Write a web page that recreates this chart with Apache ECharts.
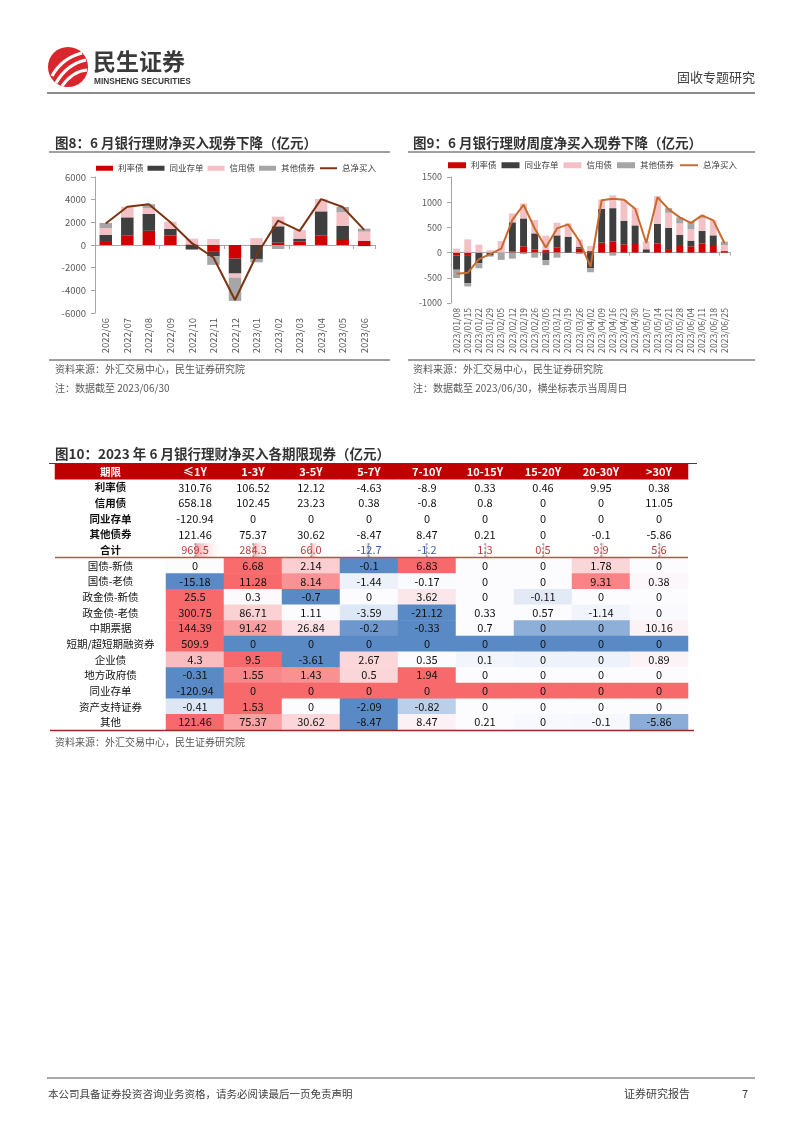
<!DOCTYPE html>
<html><head><meta charset="utf-8">
<script src="https://cdn.jsdelivr.net/npm/echarts@6/dist/echarts.min.js"></script>
<style>html,body{margin:0;padding:0;background:#fff;}#c{width:802px;height:1133px;}</style>
</head><body><div id="c"></div>
<script>
// ---------- Figure 8 (monthly) ----------
const months = ['2022/06','2022/07','2022/08','2022/09','2022/10','2022/11','2022/12','2023/01','2023/02','2023/03','2023/04','2023/05','2023/06'];
const rate8   = [350, 820, 1250, 850, 50, -600, -1200, 0, 200, 300, 820, 530, 380];
const ncd8    = [530, 1620, 1500, 560, -400, -400, -1320, -1230, 1450, 260, 2150, 1175, -100];
const credit8 = [620, 880, 500, 650, 510, 530, -350, 600, 850, 750, 1050, 1180, 800];
const other8  = [450, 50, 350, 0, 0, -750, -2060, -300, -350, -100, 30, 470, 260];
const total8  = [1900, 3380, 3600, 2000, 160, -1100, -4850, -900, 2150, 1250, 4050, 3350, 1330];

// ---------- Figure 9 (weekly) ----------
const weeks = ['2023/01/08','2023/01/15','2023/01/22','2023/01/29','2023/02/05','2023/02/12','2023/02/19','2023/02/26','2023/03/05','2023/03/12','2023/03/19','2023/03/26','2023/04/02','2023/04/09','2023/04/16','2023/04/23','2023/04/30','2023/05/07','2023/05/14','2023/05/21','2023/05/28','2023/06/04','2023/06/11','2023/06/18','2023/06/25'];
const rate9   = [-60, -50, 0, 0, 0, 20, 125, 66, 50, 105, 0, 80, 30, 197, 217, 164, 170, 0, 178, 70, 151, 125, 184, 151, 30];
const ncd9    = [-280, -555, -210, -60, 0, 580, 553, 316, -150, 237, 316, 30, -310, 672, 665, 468, 370, 66, 394, 423, 198, 112, 244, 191, 0];
const credit9 = [80, 263, 158, 50, 230, 177, 296, 263, 286, 250, 263, 150, 100, 184, 256, 408, 348, 158, 547, 297, 230, 224, 263, 303, 121];
const other9  = [-165, -66, -100, -20, -145, -120, -30, -100, -100, -100, 0, -30, -80, 0, -60, 0, 0, 0, 0, 92, 118, 151, 40, 0, 66];
const total9  = [-420, -400, -130, -30, 80, 650, 950, 480, 100, 480, 560, 230, -280, 1040, 1070, 1050, 870, 190, 1100, 860, 700, 590, 740, 640, 190];

const legendNames = ['利率债','同业存单','信用债','其他债券','总净买入'];

// ---------- Figure 10 (table) ----------
const tenors = ['≤1Y','1-3Y','3-5Y','5-7Y','7-10Y','10-15Y','15-20Y','20-30Y','>30Y'];
const topRowNames = ['利率债','信用债','同业存单','其他债券','合计'];
const rateBondRow  = [310.76, 106.52, 12.12, -4.63, -8.9, 0.33, 0.46, 9.95, 0.38];
const creditBondRow= [658.18, 102.45, 23.23, 0.38, -0.8, 0.8, 0, 0, 11.05];
const ncdRow       = [-120.94, 0, 0, 0, 0, 0, 0, 0, 0];
const otherBondRow = [121.46, 75.37, 30.62, -8.47, 8.47, 0.21, 0, -0.1, -5.86];
const totalRow     = [969.5, 284.3, 66.0, -12.7, -1.2, 1.3, 0.5, 9.9, 5.6];

const heatRowNames = ['国债-新债','国债-老债','政金债-新债','政金债-老债','中期票据','短期/超短期融资券','企业债','地方政府债','同业存单','资产支持证券','其他'];
const govNew   = [0, 6.68, 2.14, -0.1, 6.83, 0, 0, 1.78, 0];
const govOld   = [-15.18, 11.28, 8.14, -1.44, -0.17, 0, 0, 9.31, 0.38];
const pfbNew   = [25.5, 0.3, -0.7, 0, 3.62, 0, -0.11, 0, 0];
const pfbOld   = [300.75, 86.71, 1.11, -3.59, -21.12, 0.33, 0.57, -1.14, 0];
const mtn      = [144.39, 91.42, 26.84, -0.2, -0.33, 0.7, 0, 0, 10.16];
const cp       = [509.9, 0, 0, 0, 0, 0, 0, 0, 0];
const corp     = [4.3, 9.5, -3.61, 2.67, 0.35, 0.1, 0, 0, 0.89];
const localGov = [-0.31, 1.55, 1.43, 0.5, 1.94, 0, 0, 0, 0];
const ncdHeat  = [-120.94, 0, 0, 0, 0, 0, 0, 0, 0];
const abs      = [-0.41, 1.53, 0, -2.09, -0.82, 0, 0, 0, 0];
const others   = [121.46, 75.37, 30.62, -8.47, 8.47, 0.21, 0, -0.1, -5.86];
const heatRows = [govNew, govOld, pfbNew, pfbOld, mtn, cp, corp, localGov, ncdHeat, abs, others];

// ---------- styling ----------
const FONT = '"Noto Sans CJK SC","Noto Sans",sans-serif';
const COL = {red:'#D00000', dark:'#3F3F3F', pink:'#F3C1C5', gray:'#A6A6A6', line8:'#7B3413', line9:'#C9692E'};
const HIGH='#F8696B', MID='#FCFCFF', LOW='#5A8AC6';
function rgb(h){return [parseInt(h.slice(1,3),16),parseInt(h.slice(3,5),16),parseInt(h.slice(5,7),16)];}
function mix(a,b,t){const A=rgb(a),B=rgb(b);return 'rgb('+A.map((x,i)=>Math.round(x+(B[i]-x)*t)).join(',')+')';}
function scaleColor(v,row){
  const s=row.slice().sort((a,b)=>a-b), n=s.length, mn=s[0], mx=s[n-1];
  const med = n%2 ? s[(n-1)/2] : (s[n/2-1]+s[n/2])/2;
  if (v<=mn) return LOW;
  if (v>=mx) return HIGH;
  if (v<med) return mix(MID,LOW,(med-v)/(med-mn));
  if (v>med) return mix(MID,HIGH,(v-med)/(mx-med));
  return MID;
}

function bars(names, arrs, colors, xi, yi, stack, bw){
  return arrs.map((d,i)=>({name:names[i], type:'bar', stack:stack, xAxisIndex:xi, yAxisIndex:yi,
    data:d, barWidth:bw, itemStyle:{color:colors[i]}, emphasis:{disabled:true}}));
}
const barColors=[COL.red, COL.dark, COL.pink, COL.gray];

// table data
const labelData=[];
labelData.push({value:[0,0,0], txt:'期限', itemStyle:{color:'#C00000'}, label:{color:'#fff', fontWeight:'bold'}});
topRowNames.forEach((n,i)=>labelData.push({value:[0,i+1,0], txt:n, itemStyle:{color:'#fff'}, label:{fontWeight:'bold'}}));
heatRowNames.forEach((n,i)=>labelData.push({value:[0,i+6,0], txt:n, itemStyle:{color:'#fff'}}));

const cellData=[];
tenors.forEach((t,x)=>cellData.push({value:[x,0,0], txt:t, itemStyle:{color:'#C00000'}, label:{color:'#fff', fontWeight:'bold'}}));
[rateBondRow, creditBondRow, ncdRow, otherBondRow].forEach((row,r)=>row.forEach((v,x)=>
  cellData.push({value:[x,r+1,v], txt:String(v), itemStyle:{color:'#fff'}})));
totalRow.forEach((v,x)=>cellData.push({value:[x,5,v], txt:v.toFixed(1), itemStyle:{color:'rgba(255,255,255,0)'},
  label:{color: v>=0 ? '#C0393B' : '#3A62A8'}}));
heatRows.forEach((row,r)=>row.forEach((v,x)=>
  cellData.push({value:[x,r+6,v], txt:String(v), itemStyle:{color:scaleColor(v,row)}})));

const rowIds = Array.from({length:17},(_,i)=>String(i));
const maxTot = Math.max(...totalRow.map(Math.abs));

const chart = echarts.init(document.getElementById('c'), null, {renderer:'canvas'});
const axisGray = '#A6A6A6';
const plain = v => String(v);
const option = {
  animation:false,
  backgroundColor:'#fff',
  textStyle:{fontFamily:FONT},
  grid:[
    {left:95, top:177, width:280, height:136},
    {left:451, top:177, width:279, height:126},
    {left:55, top:464, width:111, height:266},
    {left:166, top:464, width:522, height:266}
  ],
  xAxis:[
    {gridIndex:0, type:'category', data:months, position:'bottom', axisLine:{show:false,onZero:false}, axisTick:{show:false},
     axisLabel:{rotate:90, interval:0, fontSize:9.5, color:'#595959', margin:5, fontFamily:FONT}},
    {gridIndex:0, type:'category', data:months, position:'bottom', axisLine:{show:true,onZero:true,lineStyle:{color:axisGray}},
     axisTick:{show:true,length:4,lineStyle:{color:axisGray}}, axisLabel:{show:false}},
    {gridIndex:1, type:'category', data:weeks, position:'bottom', axisLine:{show:false,onZero:false}, axisTick:{show:false},
     axisLabel:{rotate:90, interval:0, fontSize:8.6, color:'#595959', margin:5, fontFamily:FONT}},
    {gridIndex:1, type:'category', data:weeks, position:'bottom', axisLine:{show:true,onZero:true,lineStyle:{color:axisGray}},
     axisTick:{show:true,length:3,lineStyle:{color:axisGray}}, axisLabel:{show:false}},
    {gridIndex:2, type:'category', data:['期限'], show:false},
    {gridIndex:3, type:'category', data:tenors, show:false}
  ],
  yAxis:[
    {gridIndex:0, type:'value', min:-6000, max:6000, interval:2000, axisLine:{show:true,lineStyle:{color:axisGray}},
     axisTick:{show:true,length:4,lineStyle:{color:axisGray}}, splitLine:{show:false},
     axisLabel:{fontSize:9.5, color:'#595959', margin:9, fontFamily:FONT, formatter:plain}},
    {gridIndex:1, type:'value', min:-1000, max:1500, interval:500, axisLine:{show:true,lineStyle:{color:axisGray}},
     axisTick:{show:true,length:4,lineStyle:{color:axisGray}}, splitLine:{show:false},
     axisLabel:{fontSize:9, color:'#595959', margin:9, fontFamily:FONT, formatter:plain}},
    {gridIndex:2, type:'category', data:rowIds, inverse:true, show:false},
    {gridIndex:3, type:'category', data:rowIds, inverse:true, show:false}
  ],
  legend:[
    {left:91, top:159, itemWidth:17, itemHeight:5, itemGap:4, textStyle:{fontSize:8.5, color:'#404040', fontFamily:FONT},
     data:legendNames.map((n,i)=> i<4 ? {name:n, icon:'rect'} : {name:n, icon:'inherit', itemStyle:{opacity:0}, lineStyle:{color:COL.line8, width:2, opacity:1}}), selectedMode:false},
    {left:443, top:156, itemWidth:18, itemHeight:6, itemGap:5, textStyle:{fontSize:8.5, color:'#404040', fontFamily:FONT},
     data:legendNames.map((n,i)=> i<4 ? {name:n, icon:'rect'} : {name:n, icon:'inherit', itemStyle:{opacity:0}, lineStyle:{color:COL.line9, width:2, opacity:1}}), selectedMode:false}
  ],
  series:[
    ...bars(legendNames, [rate8, ncd8, credit8, other8], barColors, 0, 0, 's8', '58%'),
    {name:'总净买入', type:'line', xAxisIndex:0, yAxisIndex:0, data:total8, symbol:'none', z:5,
     lineStyle:{color:COL.line8, width:2}, itemStyle:{color:COL.line8}},
    ...bars(legendNames, [rate9, ncd9, credit9, other9], barColors, 2, 1, 's9', '62%'),
    {name:'总净买入', type:'line', xAxisIndex:2, yAxisIndex:1, data:total9, symbol:'none', z:5,
     lineStyle:{color:COL.line9, width:2}, itemStyle:{color:COL.line9}},
    {type:'heatmap', xAxisIndex:4, yAxisIndex:2, data:labelData, emphasis:{disabled:true},
     label:{show:true, fontSize:10.5, color:'#111', fontFamily:FONT, formatter:p=>p.data.txt}},
    {type:'heatmap', xAxisIndex:5, yAxisIndex:3, data:cellData, emphasis:{disabled:true},
     label:{show:true, fontSize:11, color:'#111', fontFamily:FONT, formatter:p=>p.data.txt}},
    {type:'custom', xAxisIndex:5, yAxisIndex:3, z:1, silent:true,
     data:totalRow.map((v,x)=>[x,5,v]),
     renderItem:function(params, api){
       const x=api.value(0), y=api.value(1), v=api.value(2);
       const c=api.coord([x,y]); const sz=api.size([1,1]);
       const len = 2 + 24*Math.sqrt(Math.abs(v)/maxTot);
       const h = sz[1]-2;
       const pos = v>=0;
       const grad = new echarts.graphic.LinearGradient(pos?0:1,0,pos?1:0,0,[
         {offset:0,color: pos?'#F4A5A8':'#9DB6DE'},{offset:1,color:'rgba(255,255,255,0.2)'}]);
       return {type:'group', children:[
         {type:'rect', shape:{x: pos?c[0]:c[0]-len, y:c[1]-h/2, width:len, height:h}, style:{fill:grad}},
         {type:'line', shape:{x1:c[0], y1:c[1]-h/2, x2:c[0], y2:c[1]+h/2}, style:{stroke:'#777', lineWidth:1, lineDash:[2,2]}}
       ]};
     }}
  ],
  graphic:[
    // logo
    {type:'circle', shape:{cx:68, cy:67, r:20}, style:{fill:'#D9262C'}},
    {type:'bezierCurve', shape:{x1:52,y1:76,x2:82,y2:53,cpx1:62,cpy1:58}, style:{stroke:'#fff', lineWidth:3.2, fill:null}},
    {type:'bezierCurve', shape:{x1:56,y1:83,x2:86,y2:60,cpx1:67,cpy1:64}, style:{stroke:'#fff', lineWidth:3.2, fill:null}},
    {type:'bezierCurve', shape:{x1:62,y1:86,x2:87,y2:70,cpx1:73,cpy1:71}, style:{stroke:'#fff', lineWidth:3, fill:null}},
    {type:'text', x:93, y:61, style:{text:'民生证券', font:'bold 23px '+FONT, fill:'#3A3A3A', verticalAlign:'middle'}},
    {type:'text', x:94, y:82, style:{text:'MINSHENG SECURITIES', font:'bold 8.3px "Liberation Sans Narrow","Liberation Sans",sans-serif', fill:'#3A3A3A', verticalAlign:'middle'}},
    {type:'text', x:755, y:77, style:{text:'固收专题研究', font:'13px '+FONT, fill:'#404040', align:'right', verticalAlign:'middle'}},
    {type:'line', shape:{x1:47,y1:93,x2:755,y2:93}, style:{stroke:'#8C8C8C', lineWidth:2}},
    // titles
    {type:'text', x:55, y:143, style:{text:'图8：6 月银行理财净买入现券下降（亿元）', font:'bold 13.5px '+FONT, fill:'#333', verticalAlign:'middle'}},
    {type:'line', shape:{x1:49,y1:152,x2:390,y2:152}, style:{stroke:'#404040', lineWidth:1}},
    {type:'text', x:413, y:143, style:{text:'图9：6 月银行理财周度净买入现券下降（亿元）', font:'bold 13.5px '+FONT, fill:'#333', verticalAlign:'middle'}},
    {type:'line', shape:{x1:408,y1:152,x2:755,y2:152}, style:{stroke:'#404040', lineWidth:1}},
    // sources
    {type:'line', shape:{x1:49,y1:360,x2:390,y2:360}, style:{stroke:'#404040', lineWidth:1}},
    {type:'line', shape:{x1:408,y1:360,x2:755,y2:360}, style:{stroke:'#404040', lineWidth:1}},
    {type:'text', x:55, y:369, style:{text:'资料来源：外汇交易中心，民生证券研究院', font:'10px '+FONT, fill:'#595959', verticalAlign:'middle'}},
    {type:'text', x:55, y:388, style:{text:'注：数据截至 2023/06/30', font:'10px '+FONT, fill:'#595959', verticalAlign:'middle'}},
    {type:'text', x:413, y:369, style:{text:'资料来源：外汇交易中心，民生证券研究院', font:'10px '+FONT, fill:'#595959', verticalAlign:'middle'}},
    {type:'text', x:413, y:388, style:{text:'注：数据截至 2023/06/30，横坐标表示当周周日', font:'10px '+FONT, fill:'#595959', verticalAlign:'middle'}},
    // table
    {type:'text', x:55, y:454, style:{text:'图10：2023 年 6 月银行理财净买入各期限现券（亿元）', font:'bold 13.5px '+FONT, fill:'#333', verticalAlign:'middle'}},
    {type:'line', shape:{x1:49,y1:463.5,x2:697,y2:463.5}, style:{stroke:'#404040', lineWidth:1}, z:100},
    {type:'line', shape:{x1:55,y1:557.5,x2:688,y2:557.5}, style:{stroke:'#C0504D', lineWidth:1.6}, z:100},
    {type:'line', shape:{x1:50,y1:730.5,x2:694,y2:730.5}, style:{stroke:'#9A2A2A', lineWidth:1.6}, z:100},
    {type:'text', x:55, y:742, style:{text:'资料来源：外汇交易中心，民生证券研究院', font:'10px '+FONT, fill:'#595959', verticalAlign:'middle'}},
    // footer
    {type:'line', shape:{x1:47,y1:1078,x2:755,y2:1078}, style:{stroke:'#8C8C8C', lineWidth:1.5}},
    {type:'text', x:48, y:1094, style:{text:'本公司具备证券投资咨询业务资格，请务必阅读最后一页免责声明', font:'10.5px '+FONT, fill:'#404040', verticalAlign:'middle'}},
    {type:'text', x:690, y:1094, style:{text:'证券研究报告', font:'11px '+FONT, fill:'#404040', align:'right', verticalAlign:'middle'}},
    {type:'text', x:745, y:1094, style:{text:'7', font:'11px '+FONT, fill:'#404040', align:'center', verticalAlign:'middle'}}
  ]
};
chart.setOption(option);
</script></body></html>
